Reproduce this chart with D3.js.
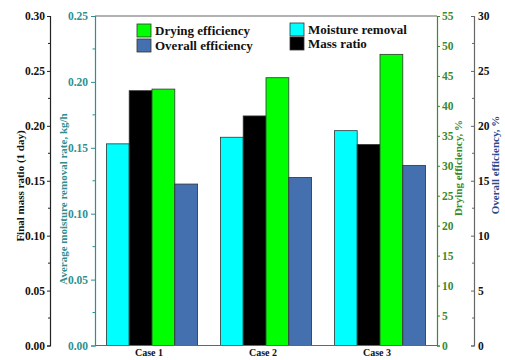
<!DOCTYPE html>
<html>
<head>
<meta charset="utf-8">
<script src="https://cdn.jsdelivr.net/npm/d3@7/dist/d3.min.js"></script>
<style>
  html, body { margin: 0; padding: 0; background: #fff; }
  svg { display: block; font-family: "Liberation Serif", "Times New Roman", serif; font-weight: bold; }
  svg text { font-family: "Liberation Serif", "Times New Roman", serif; font-weight: bold; }
</style>
</head>
<body>
<svg id="chart" width="505" height="360"></svg>
<script>
// Categories and series values
const cases = ["Case 1", "Case 2", "Case 3"];
const moistureRemoval = [0.153, 0.158, 0.163];   // kg/h, teal axis
const massRatio = [0.232, 0.209, 0.183];          // final mass ratio, black axis
const dryingEfficiency = [42.8, 44.7, 48.6];      // %, green axis
const overallEfficiency = [14.7, 15.3, 16.4];     // %, outer axis

// Tick labels for each axis
const massTicks = [0, 0.05, 0.10, 0.15, 0.20, 0.25, 0.30];
const moistureTicks = [0, 0.05, 0.10, 0.15, 0.20, 0.25];
const dryingTicks = [0, 5, 10, 15, 20, 25, 30, 35, 40, 45, 50, 55];
const overallTicks = [0, 5, 10, 15, 20, 25, 30];

const teal = "#2f8f8f";
const green = "#3a8a2e";
const navy = "#2b4a8c";

const svg = d3.select("#chart");
const plotLeft = 95, plotRight = 437, plotTop = 16, plotBottom = 345.5;

const x = d3.scaleBand().domain(cases).range([plotLeft, plotRight]);
const seriesKeys = ["moisture", "mass", "drying", "overall"];
const xs = d3.scaleBand().domain(seriesKeys).range([0, x.bandwidth()]).paddingOuter(0.5).paddingInner(0);

const yMoist = d3.scaleLinear().domain([0, 0.25]).range([plotBottom, plotTop]);
const yMass = d3.scaleLinear().domain([0, 0.30]).range([plotBottom, plotTop]);
const yDry = d3.scaleLinear().domain([0, 55]).range([plotBottom, plotTop]);
const yOver = d3.scaleLinear().domain([0, 30]).range([plotBottom, plotTop]);

const series = [
  { key: "moisture", values: moistureRemoval, scale: yMoist, fill: "#00ffff" },
  { key: "mass", values: massRatio, scale: yMass, fill: "#000000" },
  { key: "drying", values: dryingEfficiency, scale: yDry, fill: "#00ff00" },
  { key: "overall", values: overallEfficiency, scale: yOver, fill: "#4470b0" }
];

// Bars
series.forEach(s => {
  svg.append("g").selectAll("rect")
    .data(s.values.map((v, i) => ({ c: cases[i], v })))
    .join("rect")
    .attr("x", d => x(d.c) + xs(s.key))
    .attr("width", xs.bandwidth())
    .attr("y", d => s.scale(d.v))
    .attr("height", d => plotBottom - s.scale(d.v))
    .attr("fill", s.fill)
    .attr("stroke", "#333")
    .attr("stroke-width", 0.8);
});

// Frame
svg.append("line").attr("x1", plotLeft).attr("x2", plotRight).attr("y1", plotTop).attr("y2", plotTop)
  .attr("stroke", "#666").attr("stroke-width", 1.2);
svg.append("line").attr("x1", plotLeft).attr("x2", plotRight).attr("y1", plotBottom).attr("y2", plotBottom)
  .attr("stroke", "#666").attr("stroke-width", 1.2);

function styleAxis(g, color, labelColor) {
  g.attr("font-family", "Liberation Serif").attr("font-size", 11.5).attr("font-weight", "bold");
  g.select(".domain").attr("stroke", color).attr("stroke-width", 1.2);
  g.selectAll(".tick line").attr("stroke", color);
  g.selectAll(".tick text").attr("fill", labelColor).style("font-size", "11.5px");
}

function minor(g, scale, values, x0, len, color) {
  g.selectAll("line.minor").data(values).join("line").attr("class", "minor")
    .attr("x1", x0).attr("x2", x0 + len)
    .attr("y1", d => scale(d)).attr("y2", d => scale(d))
    .attr("stroke", color).attr("stroke-width", 1);
}

// Teal axis (moisture removal) on the frame's left edge
const gMoist = svg.append("g").attr("transform", `translate(${plotLeft},0)`)
  .call(d3.axisLeft(yMoist).tickValues(moistureTicks).tickFormat(d3.format(".2f")).tickSize(4).tickPadding(3));
styleAxis(gMoist, teal, teal);
minor(svg.append("g"), yMoist, d3.range(0.025, 0.25, 0.05), plotLeft, -2.5, teal);

// Outermost left axis (final mass ratio)
const massX = 50;
const gMass = svg.append("g").attr("transform", `translate(${massX},0)`)
  .call(d3.axisLeft(yMass).tickValues(massTicks).tickFormat(d3.format(".2f")).tickSize(3).tickPadding(2));
styleAxis(gMass, "#222", "#111");
minor(svg.append("g"), yMass, d3.range(0.025, 0.30, 0.05), massX, -2, "#222");

// Green axis (drying efficiency) on the frame's right edge
const gDry = svg.append("g").attr("transform", `translate(${plotRight},0)`)
  .call(d3.axisRight(yDry).tickValues(dryingTicks).tickSize(3).tickPadding(2));
styleAxis(gDry, green, green);

// Outer right axis (overall efficiency)
const overX = 474;
const gOver = svg.append("g").attr("transform", `translate(${overX},0)`)
  .call(d3.axisLeft(yOver).tickValues(overallTicks).tickSize(3).tickPadding(0));
styleAxis(gOver, "#666", "#111");
gOver.selectAll(".tick text").attr("text-anchor", "start").attr("x", 4);
minor(svg.append("g"), yOver, d3.range(2.5, 30, 5), overX, -2, "#666");

// Category labels
svg.append("g").selectAll("text").data(cases).join("text")
  .attr("x", d => x(d) + x.bandwidth() / 2 - 3)
  .attr("y", 356)
  .attr("text-anchor", "middle")
  .style("font-size", "10px")
  .attr("fill", "#111")
  .text(d => d);

// Axis titles
function vTitle(text, cx, cy, color) {
  svg.append("text")
    .attr("transform", `translate(${cx},${cy}) rotate(-90)`)
    .attr("text-anchor", "middle")
    .attr("fill", color)
    .style("font-size", "11px")
    .text(text);
}
vTitle("Final mass ratio (1 day)", 24, 186, "#111");
vTitle("Average moisture removal rate, kg/h", 67, 199, teal);
vTitle("Drying efficiency, %", 462, 168, green);
vTitle("Overall efficiency, %", 499, 165, navy);

// Legend
const legend = [
  { label: "Drying efficiency", fill: "#00ff00", x: 137, y: 24 },
  { label: "Overall efficiency", fill: "#4470b0", x: 137, y: 39 },
  { label: "Moisture removal", fill: "#00ffff", x: 290, y: 23 },
  { label: "Mass ratio", fill: "#000000", x: 290, y: 37 }
];
const lg = svg.append("g").selectAll("g").data(legend).join("g")
  .attr("transform", d => `translate(${d.x},${d.y})`);
lg.append("rect").attr("width", 14).attr("height", 13)
  .attr("fill", d => d.fill).attr("stroke", "#333").attr("stroke-width", 0.8);
lg.append("text").attr("x", 18).attr("y", 11)
  .style("font-size", "13px").attr("fill", "#111")
  .text(d => d.label);
</script>
</body>
</html>
